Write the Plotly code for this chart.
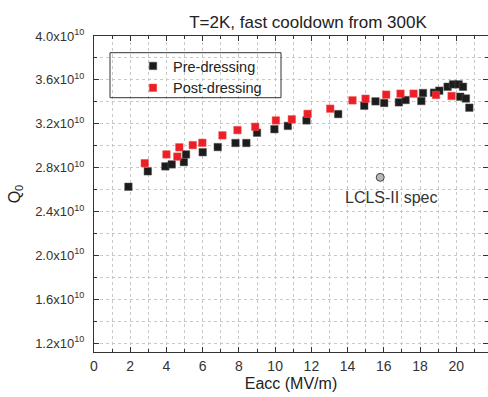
import plotly.graph_objects as go

# Data (Q0 in units of 1e10)
pre_E = [1.9, 2.97, 3.94, 4.29, 4.96, 5.08, 6.0, 6.83, 7.81, 8.41, 9.0, 9.96, 10.7,
         11.73, 13.48, 14.92, 15.54, 16.02, 16.83, 17.2, 18.07, 18.16, 18.77, 19.06,
         19.52, 19.82, 20.13, 20.37, 20.22, 20.53, 20.72]
pre_Q = [2.625, 2.766, 2.811, 2.829, 2.85, 2.92, 2.94, 2.987, 3.024, 3.024, 3.118, 3.15, 3.18,
         3.23, 3.288, 3.364, 3.404, 3.389, 3.395, 3.416, 3.407, 3.48, 3.483, 3.501,
         3.537, 3.559, 3.559, 3.537, 3.446, 3.43, 3.346]
post_E = [2.8, 4.0, 4.6, 4.71, 5.45, 5.98, 7.09, 7.92, 8.9, 10.04, 10.92, 11.79, 13.04,
          14.27, 14.99, 16.13, 16.92, 17.64, 18.88, 19.74]
post_Q = [2.84, 2.92, 2.9, 2.985, 3.005, 3.026, 3.094, 3.142, 3.172, 3.23, 3.24, 3.29, 3.337,
          3.413, 3.428, 3.465, 3.474, 3.474, 3.462, 3.453]
spec_E = [15.8]
spec_Q = [2.711]

y_ticks = [1.2, 1.6, 2.0, 2.4, 2.8, 3.2, 3.6, 4.0]
y_ticktext = [f"{v:.1f}x10<sup>10</sup>" for v in y_ticks]
x_ticks = [0, 2, 4, 6, 8, 10, 12, 14, 16, 18, 20]

FONT = "Liberation Sans, Arial, sans-serif"

fig = go.Figure()
fig.add_trace(go.Scatter(x=pre_E, y=pre_Q, mode="markers", name="Pre-dressing",
                         marker=dict(symbol="square", size=7.5, color="#1c1c1c",
                                     line=dict(width=0.5, color="#555"))))
fig.add_trace(go.Scatter(x=post_E, y=post_Q, mode="markers", name="Post-dressing",
                         marker=dict(symbol="square", size=7.5, color="#ec1f26",
                                     line=dict(width=0.5, color="#f05050"))))
fig.add_trace(go.Scatter(x=spec_E, y=spec_Q, mode="markers", name="LCLS-II spec",
                         showlegend=False,
                         marker=dict(symbol="circle", size=8, color="#b8b8b8",
                                     line=dict(width=1, color="#444"))))

fig.add_annotation(x=spec_E[0], y=spec_Q[0], text="LCLS-II spec", showarrow=False,
                   xshift=11, yshift=-20, font=dict(size=16, color="#333", family=FONT))

fig.add_shape(type="rect", xref="paper", yref="paper",
              x0=(110 - 94) / 394, x1=(281 - 94) / 394,
              y0=(352 - 97.7) / 316, y1=(352 - 52.7) / 316,
              line=dict(color="#333", width=1), fillcolor="rgba(0,0,0,0)")

axis_common = dict(showline=True, linecolor="#333", linewidth=1.2, mirror="ticks",
                   ticks="inside", tickcolor="#333", ticklen=5,
                   showgrid=True, gridcolor="#c8c8c8", griddash="dot", gridwidth=1,
                   zeroline=False)

fig.update_layout(
    width=488, height=397,
    margin=dict(l=94, r=0, t=36, b=45),
    paper_bgcolor="white", plot_bgcolor="white",
    font=dict(family=FONT, color="#333"),
    title=dict(text="T=2K, fast cooldown from 300K", x=308 / 488, xanchor="center",
               y=1 - 22 / 397, yanchor="middle", font=dict(size=17, color="#222", family=FONT)),
    showlegend=True,
    legend=dict(x=(133 - 94) / 394, y=(352 - 50) / 316, xanchor="left", yanchor="top",
                bgcolor="rgba(0,0,0,0)", borderwidth=0,
                font=dict(size=14.5, color="#222", family=FONT),
                tracegroupgap=0),
)
fig.update_xaxes(range=[0, 21.75], tickvals=x_ticks, ticktext=[str(v) for v in x_ticks],
                 tickfont=dict(size=14, color="#333", family=FONT), ticklabelstandoff=1,
                 title=dict(text="Eacc (MV/m)", font=dict(size=16, color="#222", family=FONT),
                            standoff=4),
                 minor=dict(dtick=1, tick0=0, ticks="inside", ticklen=3, tickcolor="#333",
                            showgrid=True, gridcolor="#c8c8c8", griddash="dot"),
                 **axis_common)
fig.update_yaxes(range=[1.118, 4.0], tickvals=y_ticks, ticktext=y_ticktext,
                 tickfont=dict(size=13, color="#333", family=FONT), ticklabelstandoff=6,
                 title=dict(text="Q<sub>0</sub>", font=dict(size=16, color="#222", family=FONT),
                            standoff=10),
                 minor=dict(dtick=0.2, tick0=0, ticks="inside", ticklen=3, tickcolor="#333",
                            showgrid=True, gridcolor="#c8c8c8", griddash="dot"),
                 **axis_common)

fig.write_html("out.html", post_script="document.body.style.margin='0';",
               config={"displayModeBar": False})
